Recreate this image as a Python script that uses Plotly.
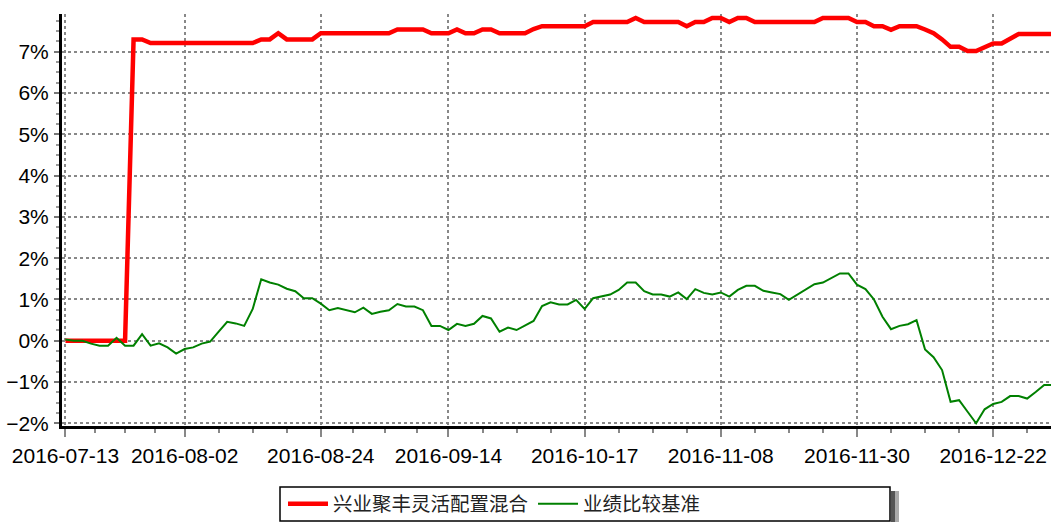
import plotly.graph_objects as go

# ---------------- data ----------------
tick_labels = ["2016-07-13", "2016-08-02", "2016-08-24", "2016-09-14",
               "2016-10-17", "2016-11-08", "2016-11-30", "2016-12-22"]
tick_index = [0, 14, 30, 45, 61, 77, 93, 109]   # trading-day index of each labelled date

fund_name = "兴业聚丰灵活配置混合"
bench_name = "业绩比较基准"

fund = [0, 0, 0, 0, 0, 0, 0, 0,
        7.30, 7.30,
        7.21, 7.21, 7.21, 7.21, 7.21, 7.21, 7.21, 7.21, 7.21, 7.21, 7.21, 7.21, 7.21,
        7.30, 7.30, 7.45, 7.30, 7.30, 7.30, 7.30,
        7.45, 7.45, 7.45, 7.45, 7.45, 7.45, 7.45, 7.45, 7.45,
        7.54, 7.54, 7.54, 7.54,
        7.45, 7.45, 7.45,
        7.54,
        7.45, 7.45,
        7.54, 7.54,
        7.45, 7.45, 7.45, 7.45,
        7.55,
        7.62, 7.62, 7.62, 7.62, 7.62, 7.62,
        7.72, 7.72, 7.72, 7.72, 7.72,
        7.82,
        7.72, 7.72, 7.72, 7.72, 7.72,
        7.62,
        7.72, 7.72,
        7.82, 7.82,
        7.72,
        7.82, 7.82,
        7.72, 7.72, 7.72, 7.72, 7.72, 7.72, 7.72, 7.72,
        7.82, 7.82, 7.82, 7.82,
        7.72, 7.72,
        7.62, 7.62,
        7.53,
        7.62, 7.62, 7.62,
        7.54, 7.45, 7.30, 7.12, 7.12, 7.02, 7.02, 7.12, 7.20, 7.20, 7.32, 7.43,
        7.43, 7.43, 7.43, 7.43]

bench = [0.03, 0.00, 0.00, -0.07, -0.12, -0.12, 0.07, -0.12, -0.12, 0.16,
         -0.12, -0.06, -0.16, -0.31, -0.20, -0.16, -0.07, -0.02, 0.22, 0.46,
         0.42, 0.36, 0.77, 1.49, 1.41, 1.36, 1.26, 1.20, 1.03, 1.03,
         0.90, 0.74, 0.79, 0.74, 0.69, 0.80, 0.65, 0.70, 0.74, 0.89,
         0.83, 0.83, 0.74, 0.36, 0.36, 0.26, 0.41, 0.36, 0.41, 0.60,
         0.54, 0.22, 0.32, 0.26, 0.36, 0.48, 0.84, 0.93, 0.88, 0.88,
         0.99, 0.77, 1.03, 1.07, 1.12, 1.23, 1.41, 1.41, 1.20, 1.12,
         1.12, 1.07, 1.17, 1.01, 1.25, 1.16, 1.12, 1.17, 1.07, 1.23,
         1.33, 1.33, 1.21, 1.17, 1.13, 0.99, 1.12, 1.23, 1.37, 1.41,
         1.51, 1.63, 1.63, 1.36, 1.25, 1.00, 0.58, 0.28, 0.36, 0.40,
         0.50, -0.21, -0.40, -0.71, -1.48, -1.44, -1.72, -2.00, -1.66, -1.53,
         -1.48, -1.34, -1.34, -1.40, -1.24, -1.07, -1.07]

# ---------------- layout constants ----------------
W, H = 1051, 523
ML, MR, MT, MB = 62, 0, 14, 97
PW, PH = W - ML - MR, H - MT - MB


def px_x(p):
    return (p - ML) / PW


def px_y(p):
    return (H - MB - p) / PH


FONT = "Liberation Sans, Arial, sans-serif"
CJK = "Noto Sans CJK SC, sans-serif"

# minor x ticks: quarter points between labelled ticks
minor_x = []
for a, b in zip(tick_index[:-1], tick_index[1:]):
    for k in (1, 2, 3):
        minor_x.append(a + (b - a) * k / 4)
minor_x += [tick_index[-1] + 4, tick_index[-1] + 8]

fig = go.Figure()
fig.add_trace(go.Scatter(x=list(range(len(fund))), y=fund, mode="lines", name=fund_name,
                         line=dict(color="#ff0000", width=4.5)))
fig.add_trace(go.Scatter(x=list(range(len(bench))), y=bench, mode="lines", name=bench_name,
                         line=dict(color="#008000", width=2)))

fig.update_layout(
    width=W, height=H,
    margin=dict(l=ML, r=MR, t=MT, b=MB, pad=0, autoexpand=False),
    paper_bgcolor="white", plot_bgcolor="white",
    font=dict(family=FONT, size=21, color="black"),
    showlegend=True,
    legend=dict(orientation="h", x=px_x(283), xanchor="left", y=px_y(504), yanchor="middle",
                bgcolor="rgba(0,0,0,0)", borderwidth=0, itemwidth=40,
                font=dict(family=CJK, size=19.5, color="#222")),
    xaxis=dict(range=[-0.41, 115.8], showline=True, linecolor="black", linewidth=3,
               tickmode="array", tickvals=tick_index, ticktext=tick_labels,
               ticks="outside", ticklen=8, tickwidth=1.5, tickcolor="#888",
               showgrid=True, gridcolor="#888", griddash="dot", gridwidth=1.5,
               zeroline=False, ticklabelstandoff=1, automargin=False,
               minor=dict(tickmode="array", tickvals=minor_x, ticks="outside",
                          ticklen=4, tickwidth=1.5, tickcolor="#888", showgrid=False)),
    yaxis=dict(range=[-2.065, 7.915], showline=True, linecolor="black", linewidth=3,
               tickmode="linear", tick0=0, dtick=1, ticksuffix="%",
               ticks="outside", ticklen=5, tickwidth=1.5, tickcolor="#777",
               showgrid=True, gridcolor="#888", griddash="dot", gridwidth=1.5,
               zeroline=False, ticklabelstandoff=1, automargin=False,
               minor=dict(dtick=0.25, ticks="outside", ticklen=3, tickwidth=1.5,
                          tickcolor="#999", showgrid=False)),
    shapes=[
        # legend shadow
        dict(type="rect", xref="paper", yref="paper",
             x0=px_x(891), x1=px_x(895), y0=px_y(491), y1=px_y(522),
             line=dict(width=0), fillcolor="#555"),
        dict(type="rect", xref="paper", yref="paper",
             x0=px_x(895), x1=px_x(899), y0=px_y(491), y1=px_y(522),
             line=dict(width=0), fillcolor="#aaa"),
        # legend frame
        dict(type="rect", xref="paper", yref="paper",
             x0=px_x(280), x1=px_x(890), y0=px_y(487), y1=px_y(521),
             line=dict(color="black", width=1.5), fillcolor="rgba(0,0,0,0)"),
    ],
)

fig.write_html("out.html", config={"displayModeBar": False},
               post_script="document.body.style.margin='0';document.body.style.overflow='hidden';")
